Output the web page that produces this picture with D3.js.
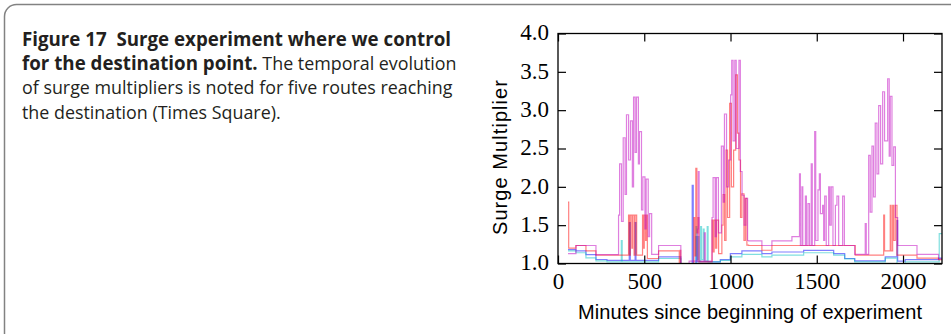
<!DOCTYPE html>
<html>
<head>
<meta charset="utf-8">
<script src="https://cdn.jsdelivr.net/npm/d3@7"></script>
<style>
  body { margin: 0; background: #fff; }
</style>
</head>
<body>
<svg id="fig" width="951" height="334"></svg>
<script>
////////// DATA //////////

var xTicks = [0, 500, 1000, 1500, 2000],
    yTicks = [1.0, 1.5, 2.0, 2.5, 3.0, 3.5, 4.0],
    xDomain = [0, 2226],
    yDomain = [1, 4];

var xLabel = "Minutes since beginning of experiment",
    yLabel = "Surge Multiplier";

// caption lines, each a list of [bold?, text]
var captionLines = [
    [[true, "Figure 17  Surge experiment where we control"]],
    [[true, "for the destination point."], [false, " The temporal evolution"]],
    [[false, "of surge multipliers is noted for five routes reaching"]],
    [[false, "the destination (Times Square)."]]
];

// [minute, surge multiplier], step changes
var routeBlue = [
    [58,1.18],[104,1.165],[162,1.117],[220,1.052],[284,1.04],
    [413,1.535],[419,1.04],[447,1.535],[452,1.04],
    [583,1.087],[712,1.0],
    [778,2.02],[784,1.0],[800,1.35],[806,1.02],
    [870,1.02],[941,1.05],[999,1.13],[1066,1.165],[1182,1.13],[1240,1.15],[1424,1.17],
    [1598,1.13],[1662,1.065],[1720,1.035],[1897,1.087],[1965,1.56],[1969,1.03],
    [2013,1.05],[2206,1.07],[2226,1.07]
];

var routeCyan = [
    [58,1.165],[104,1.14],[162,1.073],[220,1.035],[284,1.02],[367,1.30],[372,1.02],
    [583,1.065],[712,1.0],
    [800,1.48],[805,1.05],[812,1.35],[817,1.03],[827,1.48],[832,1.05],[842,1.45],[847,1.03],
    [865,1.48],[870,1.02],
    [941,1.04],[999,1.087],[1066,1.12],[1182,1.087],[1240,1.11],[1424,1.14],
    [1598,1.11],[1662,1.06],[1720,1.02],[1897,1.07],[1965,1.0],[2013,1.02],
    [2210,1.39],[2226,1.39]
];

var routeRed = [
    [58,1.8],[62,1.2],[104,1.235],[162,1.165],[220,1.108],
    [409,1.63],[414,1.108],[419,1.63],[428,1.2],[432,1.63],[441,1.108],[447,1.63],[456,1.108],
    [490,1.63],[495,1.2],[500,1.63],[508,1.3],[512,1.63],[518,1.065],
    [583,1.165],[703,1.0],[707,1.17],[712,1.0],
    [788,1.6],[793,1.1],[799,2.24],[805,1.4],[811,1.6],[817,1.02],
    [893,1.565],[899,1.15],[905,1.565],[914,1.2],[920,1.565],[931,1.13],
    [950,1.5],[957,1.9],[966,1.3],[974,2.48],[983,1.6],[995,3.09],[1005,2.0],
    [1018,2.48],[1030,3.46],[1040,2.7],[1049,2.35],[1058,1.6],[1066,1.91],[1078,1.3],
    [1086,1.85],[1095,1.24],
    [1105,1.235],[1182,1.173],[1240,1.235],[1723,1.108],
    [1888,1.63],[1893,1.165],[1926,1.76],[1931,1.165],[1940,1.76],[1946,1.3],[1955,1.76],
    [1965,1.108],[2081,1.07],[2206,1.05],[2226,1.05]
];

var routeViolet = [
    [58,1.13],[104,1.235],[220,1.117],
    [351,1.63],[357,2.30],[368,1.55],[378,2.64],[389,1.9],[397,2.94],[409,2.35],[420,2.86],
    [431,2.0],[438,3.17],[447,2.45],[455,3.17],[466,2.3],[472,2.72],[484,1.7],[492,2.13],
    [504,1.45],[511,2.1],[523,1.35],[531,1.65],[543,1.12],
    [583,1.235],[712,1.0],[760,1.03],[808,1.45],[813,2.2],[818,1.03],[848,1.4],[854,1.03],
    [893,1.6],[899,2.12],[911,1.35],[918,2.12],[930,1.4],[947,2.53],[958,1.8],[965,2.95],
    [977,2.0],[989,2.35],[1001,3.2],[1007,3.65],[1015,2.6],[1025,3.65],[1033,2.5],
    [1049,3.65],[1057,2.2],[1067,1.89],[1079,1.5],[1089,1.85],[1099,1.3],
    [1105,1.295],[1182,1.235],[1240,1.295],[1356,1.35],
    [1400,2.17],[1405,1.235],[1414,2.0],[1419,1.235],[1434,1.88],[1440,1.235],[1449,1.78],
    [1458,1.235],[1468,2.30],[1474,1.235],[1488,2.72],[1494,1.3],[1507,1.96],[1515,2.17],
    [1521,1.65],[1534,1.76],[1540,1.3],[1546,1.88],[1555,1.235],[1569,2.0],[1576,1.5],
    [1584,2.0],[1594,1.235],[1608,1.76],[1617,1.88],[1627,1.235],[1650,1.88],[1660,1.235],
    [1720,1.12],[1781,1.52],[1787,1.12],[1801,2.41],[1810,1.67],[1820,2.53],[1829,1.87],
    [1839,2.83],[1849,2.17],[1859,3.06],[1870,2.3],[1882,3.24],[1893,2.6],[1911,3.41],
    [1920,2.4],[1926,3.18],[1936,2.28],[1946,2.52],[1956,1.6],
    [1969,1.235],[2081,1.12],[2206,1.06],[2226,1.06]
];

var routes = [routeBlue, routeCyan, routeRed, routeViolet],
    routeColors = ["#0000ff", "#00bfbf", "#ff0000", "#bf00bf"];

////////// LAYOUT //////////

var margin = { top: 33.5, right: 9, bottom: 70.5, left: 558 },
    width = 951 - margin.left - margin.right,
    height = 334 - margin.top - margin.bottom;

var tickFont = "'Liberation Serif', 'Times New Roman', serif",
    labelFont = "'Liberation Sans', Arial, sans-serif",
    captionFont = "'Open Sans', sans-serif";

var svg = d3.select("#fig");

// panel frame (runs off the right and bottom edges)
svg.append("rect")
    .attr("x", 4.5)
    .attr("y", 4.5)
    .attr("width", 1000)
    .attr("height", 360)
    .attr("rx", 12)
    .attr("fill", "none")
    .attr("stroke", "#828282")
    .attr("stroke-width", 1.5);

//
// Caption
//
var baseSize = 18;
var cap = svg.append("g")
    .attr("fill", "#231f20")
    .style("font-family", captionFont);

captionLines.forEach(function(parts, i) {
    var t = cap.append("text")
        .attr("x", 22)
        .attr("y", 45.7 + i * 24.3)
        .attr("xml:space", "preserve")
        .style("white-space", "pre");
    parts.forEach(function(p) {
        t.append("tspan")
            .attr("class", p[0] ? "b" : "r")
            .style("font-weight", p[0] ? 700 : 400)
            .style("font-size", baseSize + "px")
            .text(p[1]);
    });
});

// fit the caption widths to the panel column
var capNodes = cap.selectAll("text").nodes();
var boldSize = baseSize * 429 / capNodes[0].getComputedTextLength(),
    regSize = baseSize * 430.7 / capNodes[2].getComputedTextLength();
cap.selectAll("tspan.b").style("font-size", boldSize + "px");
cap.selectAll("tspan.r").style("font-size", regSize + "px");

//
// Chart
//
var x = d3.scaleLinear().domain(xDomain).range([0, width]);
var y = d3.scaleLinear().domain(yDomain).range([height, 0]);

var g = svg.append("g")
    .attr("transform", "translate(" + margin.left + "," + margin.top + ")");

g.append("clipPath")
    .attr("id", "plotclip")
  .append("rect")
    .attr("width", width)
    .attr("height", height);

var line = d3.line()
    .x(function(d) { return x(d[0]); })
    .y(function(d) { return y(d[1]); })
    .curve(d3.curveStepAfter);

g.append("g")
    .attr("clip-path", "url(#plotclip)")
  .selectAll("path")
    .data(routes)
  .enter().append("path")
    .attr("d", line)
    .attr("fill", "none")
    .attr("stroke", function(d, i) { return routeColors[i]; })
    .attr("stroke-opacity", 0.5)
    .attr("stroke-width", 1.2);

// axes, ticks pointing inward on all four sides
function styleAxis(sel) {
    sel.select(".domain").remove();
    sel.attr("font-family", tickFont).attr("font-size", 23);
    sel.selectAll(".tick line").attr("stroke", "#000").attr("stroke-width", 1.2);
    sel.selectAll(".tick text").attr("fill", "#000");
}

g.append("g")
    .attr("transform", "translate(0," + height + ")")
    .call(d3.axisBottom(x).tickValues(xTicks).tickSize(-8).tickPadding(9).tickFormat(d3.format("d")))
    .call(styleAxis);

g.append("g")
    .call(d3.axisTop(x).tickValues(xTicks).tickSize(-8).tickFormat(""))
    .call(styleAxis);

g.append("g")
    .call(d3.axisLeft(y).tickValues(yTicks).tickSize(-8).tickPadding(9).tickFormat(d3.format(".1f")))
    .call(styleAxis)
    .selectAll(".tick text").attr("dy", "0.27em");

g.append("g")
    .attr("transform", "translate(" + width + ",0)")
    .call(d3.axisRight(y).tickValues(yTicks).tickSize(-8).tickFormat(""))
    .call(styleAxis);

g.append("rect")
    .attr("width", width)
    .attr("height", height)
    .attr("fill", "none")
    .attr("stroke", "#000")
    .attr("stroke-width", 1.3);

// axis titles
g.append("text")
    .attr("x", width / 2)
    .attr("y", 285.2)
    .attr("text-anchor", "middle")
    .attr("font-family", labelFont)
    .attr("font-size", 20)
    .attr("textLength", 344)
    .attr("lengthAdjust", "spacing")
    .text(xLabel);

g.append("text")
    .attr("transform", "translate(-51,124) rotate(-90)")
    .attr("text-anchor", "middle")
    .attr("font-family", labelFont)
    .attr("font-size", 20)
    .attr("textLength", 155)
    .attr("lengthAdjust", "spacing")
    .text(yLabel);
</script>
</body>
</html>
